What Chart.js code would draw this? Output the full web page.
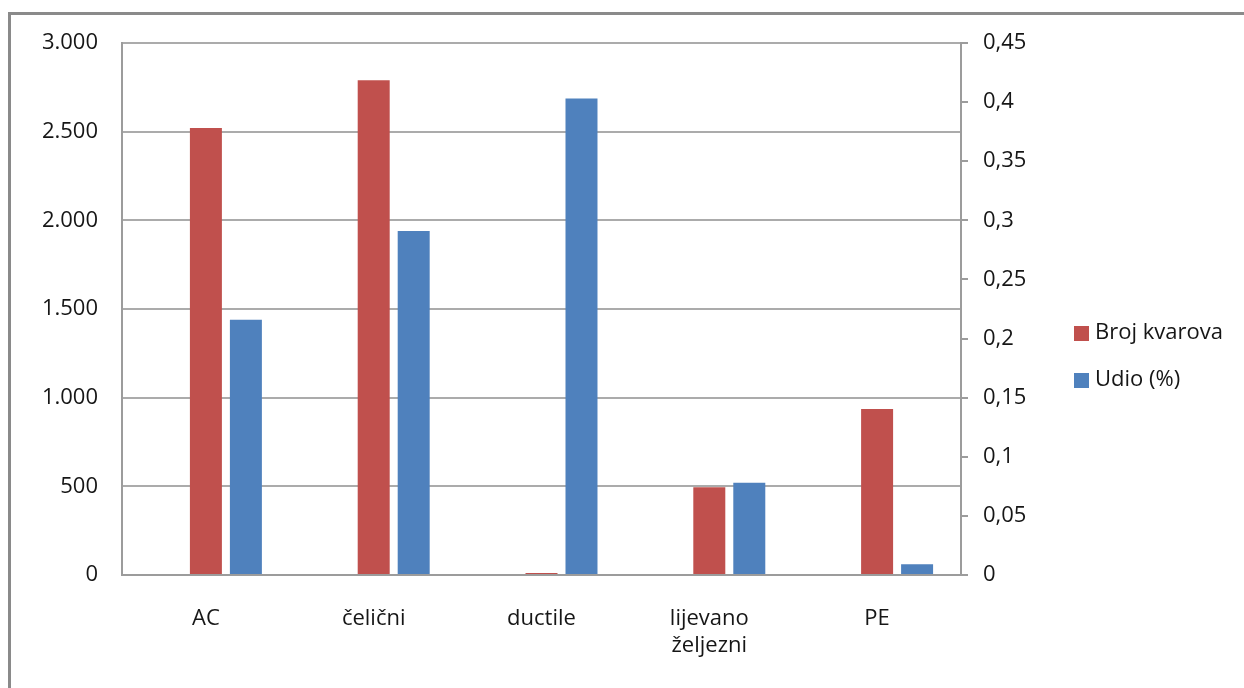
<!DOCTYPE html>
<html>
<head>
<meta charset="utf-8">
<script src="https://cdn.jsdelivr.net/npm/chart.js@4/dist/chart.umd.min.js"></script>
<style>
  html, body { margin: 0; padding: 0; background: #fff; overflow: hidden; }
  #wrap { position: relative; width: 1244px; height: 688px; }
  #frame { position: absolute; left: 8px; top: 12px; width: 1260px; height: 700px;
           border: 3px solid #8a8a8a; box-sizing: border-box; }
  #c { position: absolute; left: 0; top: 0; }
</style>
</head>
<body>
<div id="wrap">
  <div id="frame"></div>
  <canvas id="c" width="1244" height="688"></canvas>
</div>
<script>
// Pipe materials
const categories = ['AC', 'čelični', 'ductile', ['lijevano', 'željezni'], 'PE'];
// Number of failures (left axis)
const brojKvarova = [2520, 2790, 11, 495, 936];
// Share in percent (right axis)
const udio = [0.216, 0.291, 0.403, 0.078, 0.009];
// Axis tick steps
const leftMax = 3000, leftStep = 500;
const rightMax = 0.45, rightStep = 0.05;

const FONT = { family: "'Open Sans', 'Noto Sans', sans-serif", size: 22 };
const TEXT = '#161616';
const GRID = '#ababab';
const AXIS = '#9c9c9c';
const RED = '#C0504D';
const BLUE = '#4F81BD';

function fmtThousands(v) {
  return String(Math.round(v)).replace(/\B(?=(\d{3})+(?!\d))/g, '.');
}
function fmtDecimal(v) {
  const r = Math.round(v * 100) / 100;
  return String(r).replace('.', ',');
}

// Legend drawn at the right side of the chart
const sideLegend = {
  id: 'sideLegend',
  afterDraw(chart) {
    const ctx = chart.ctx;
    const items = chart.data.datasets.filter(d => d.label);
    ctx.save();
    ctx.font = `${FONT.size}px ${FONT.family}`;
    ctx.textBaseline = 'middle';
    ctx.textAlign = 'left';
    items.forEach((d, i) => {
      const cy = 333 + i * 47;
      ctx.fillStyle = d.backgroundColor;
      ctx.fillRect(1074, cy - 7, 15, 15);
      ctx.fillStyle = TEXT;
      ctx.fillText(d.label, 1095, cy);
    });
    ctx.restore();
  }
};

new Chart(document.getElementById('c'), {
  type: 'bar',
  data: {
    labels: categories,
    datasets: [
      // empty slot so the red bar sits on the category centre
      { label: '', data: categories.map(() => null), yAxisID: 'y', backgroundColor: 'rgba(0,0,0,0)' },
      { label: 'Broj kvarova', data: brojKvarova, yAxisID: 'y', backgroundColor: RED },
      { label: 'Udio (%)', data: udio, yAxisID: 'y1', backgroundColor: BLUE }
    ]
  },
  options: {
    responsive: false,
    animation: false,
    devicePixelRatio: 1,
    categoryPercentage: 0.715,
    barPercentage: 0.8,
    layout: { padding: { top: 43, left: 0, right: 0, bottom: 0 } },
    plugins: { legend: { display: false }, tooltip: { enabled: false } },
    scales: {
      x: {
        grid: { display: false, drawTicks: false },
        border: { display: true, color: AXIS, width: 2 },
        ticks: { font: FONT, color: TEXT, padding: 31, maxRotation: 0, autoSkip: false },
        afterFit(s) { s.height = 113; }
      },
      y: {
        position: 'left',
        min: 0, max: leftMax,
        grid: { color: GRID, lineWidth: 2, drawTicks: false },
        border: { color: AXIS, width: 2 },
        ticks: { stepSize: leftStep, font: FONT, color: TEXT, padding: 24, callback: v => fmtThousands(v) },
        afterFit(s) { s.width = 122; }
      },
      y1: {
        position: 'right',
        min: 0, max: rightMax,
        grid: { drawOnChartArea: false, drawTicks: true, tickLength: 7, color: AXIS, lineWidth: 2 },
        border: { color: AXIS, width: 2 },
        ticks: { stepSize: rightStep, font: FONT, color: TEXT, padding: 15, callback: v => fmtDecimal(v) },
        afterFit(s) { s.width = 1244 - 961; }
      }
    }
  },
  plugins: [sideLegend]
});
</script>
</body>
</html>
